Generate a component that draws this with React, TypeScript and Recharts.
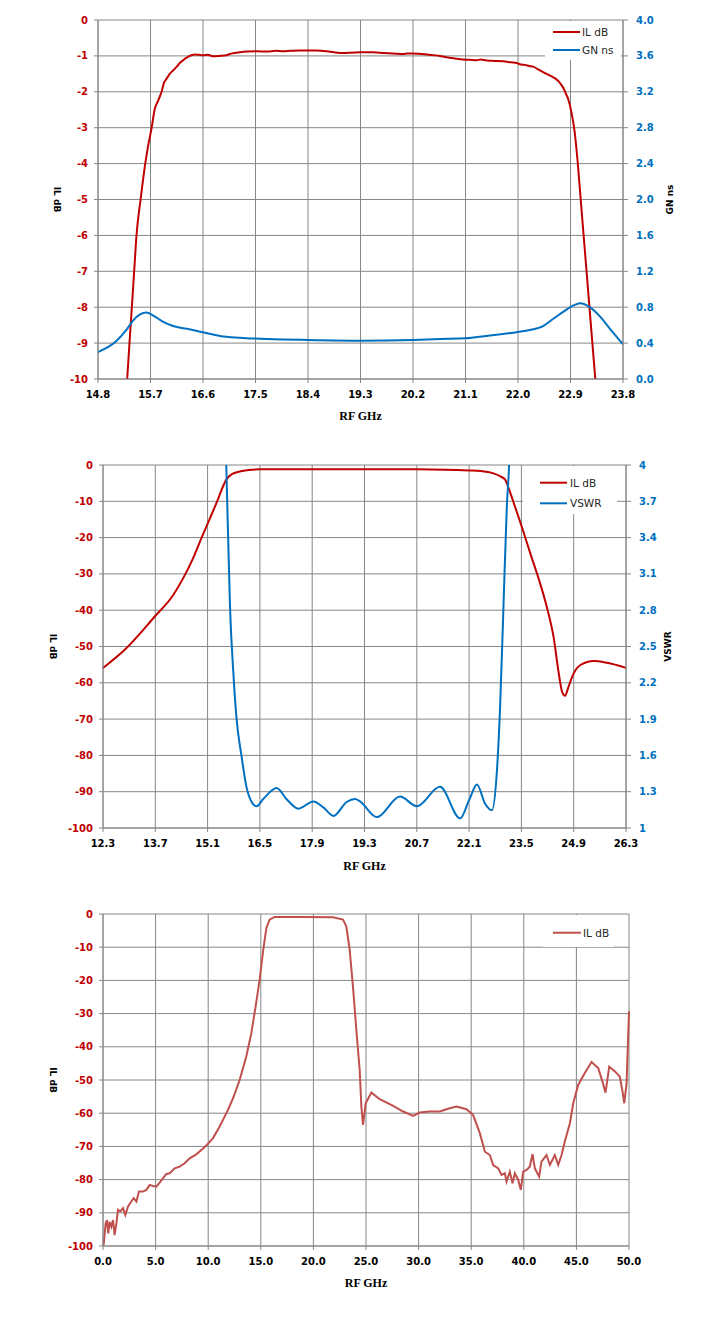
import React from 'react';
import { LineChart, Line, XAxis, YAxis, CartesianGrid } from 'recharts';

// ---- chart 1: passband IL and group delay ----
const topXTicks = [14.8, 15.7, 16.6, 17.5, 18.4, 19.3, 20.2, 21.1, 22.0, 22.9, 23.8];
const topIlTicks = [-10, -9, -8, -7, -6, -5, -4, -3, -2, -1, 0];
const topGnTicks = [0, 0.4, 0.8, 1.2, 1.6, 2.0, 2.4, 2.8, 3.2, 3.6, 4.0];

const topIlFreq = [
  15.27, 15.3, 15.34, 15.38, 15.42, 15.46, 15.53, 15.61, 15.66, 15.72, 15.77, 15.83, 15.89, 15.93,
  15.97, 16.03, 16.09, 16.15, 16.2, 16.26, 16.32, 16.4, 16.46, 16.53, 16.6, 16.68, 16.77, 16.88,
  17.0, 17.1, 17.23, 17.35, 17.52, 17.7, 17.85, 17.97, 18.1, 18.25, 18.4, 18.55, 18.72, 18.85,
  19.0, 19.15, 19.3, 19.52, 19.7, 19.85, 20.03, 20.1, 20.2, 20.3, 20.43, 20.55, 20.66, 20.75,
  20.83, 20.95, 21.06, 21.18, 21.29, 21.36, 21.46, 21.6, 21.75, 21.88, 21.98, 22.05, 22.12, 22.19,
  22.26, 22.35, 22.43, 22.55, 22.63, 22.69, 22.74, 22.78, 22.82, 22.86, 22.92, 22.97, 23.02, 23.07,
  23.12, 23.17, 23.22, 23.27, 23.32, 23.36,
];
const topIlDb = [
  -10.8, -10.0, -9.0, -8.0, -7.0, -6.0, -5.0, -4.0, -3.5, -3.0, -2.5, -2.25, -2.0, -1.75,
  -1.65, -1.5, -1.4, -1.3, -1.2, -1.12, -1.05, -0.98, -0.96, -0.97, -0.98, -0.97, -1.01, -1.0,
  -0.98, -0.93, -0.9, -0.88, -0.87, -0.88, -0.86, -0.87, -0.86, -0.85, -0.85, -0.85, -0.87, -0.9,
  -0.92, -0.91, -0.9, -0.9, -0.92, -0.93, -0.95, -0.93, -0.93, -0.94, -0.96, -0.98, -1.0, -1.03,
  -1.05, -1.08, -1.1, -1.11, -1.12, -1.1, -1.13, -1.14, -1.15, -1.18, -1.2, -1.24, -1.25, -1.28,
  -1.3, -1.38, -1.45, -1.55, -1.62, -1.7, -1.8, -1.9, -2.05, -2.2, -2.6, -3.1, -3.9, -4.9,
  -5.9, -6.9, -7.9, -8.9, -9.9, -10.7,
];

const topGnFreq = [
  14.8, 15.11, 15.29, 15.4, 15.52, 15.63, 15.74, 15.91, 16.09, 16.32, 16.6, 16.89, 17.23, 17.5,
  17.97, 18.4, 19.3, 20.2, 20.66, 21.1, 21.46, 22.0, 22.2, 22.43, 22.6, 22.78, 22.95, 23.07,
  23.23, 23.4, 23.57, 23.8,
];
const topGnNs = [
  0.3, 0.42, 0.55, 0.65, 0.72, 0.74, 0.71, 0.64, 0.59, 0.56, 0.52, 0.48, 0.46, 0.45,
  0.44, 0.435, 0.427, 0.435, 0.446, 0.453, 0.48, 0.524, 0.546, 0.59, 0.668, 0.75, 0.82, 0.843,
  0.8, 0.7, 0.565, 0.386,
];

// ---- chart 2: IL and VSWR ----
const midXTicks = [12.3, 13.7, 15.1, 16.5, 17.9, 19.3, 20.7, 22.1, 23.5, 24.9, 26.3];
const midIlTicks = [-100, -90, -80, -70, -60, -50, -40, -30, -20, -10, 0];
const midVswrTicks = [1, 1.3, 1.6, 1.9, 2.2, 2.5, 2.8, 3.1, 3.4, 3.7, 4];

const midIlFreq = [
  12.3, 12.91, 13.68, 14.18, 14.44, 14.71, 14.94, 15.15, 15.36, 15.5, 15.61, 15.75, 15.96, 16.2, 16.5,
  17.13, 19.18, 20.7, 22.1, 22.4, 22.75, 22.95, 23.07, 23.16, 23.28, 23.51, 23.74, 24.0, 24.18, 24.36,
  24.5, 24.59, 24.67, 24.76, 24.9, 25.08, 25.44, 25.79, 26.3,
];
const midIlDb = [
  -55.9, -50.6, -41.8, -35.8, -31.3, -25.7, -20.0, -15.0, -9.9, -6.2, -3.9, -2.5, -1.8, -1.4, -1.2,
  -1.15, -1.15, -1.2, -1.5, -1.65, -2.3, -3.2, -4.1, -6.4, -10.0, -17.0, -24.4, -32.6, -39.1, -47.3,
  -57.4, -62.5, -63.6, -61.1, -57.4, -55.1, -54.0, -54.5, -55.9,
];

const midVswrFreq = [
  15.56, 15.6, 15.65, 15.7, 15.79, 15.87, 16.01, 16.14, 16.28, 16.41, 16.59, 16.95, 17.21, 17.53,
  17.93, 18.2, 18.47, 18.82, 19.05, 19.18, 19.63, 20.25, 20.7, 21.32, 21.86, 22.1, 22.31, 22.53,
  22.71, 22.84, 22.93, 23.02, 23.11, 23.17, 23.22,
];
const midVswr = [
  4.6, 4.0, 3.4, 2.83, 2.28, 1.92, 1.59, 1.34, 1.215, 1.18, 1.24, 1.33, 1.24, 1.16,
  1.22, 1.17, 1.1, 1.215, 1.24, 1.22, 1.09, 1.26, 1.18, 1.34, 1.08, 1.23, 1.36, 1.2,
  1.146, 1.45, 2.0, 2.83, 3.66, 4.0, 4.6,
];

// ---- chart 3: wideband IL ----
const botXTicks = [0, 5, 10, 15, 20, 25, 30, 35, 40, 45, 50];
const botIlTicks = [-100, -90, -80, -70, -60, -50, -40, -30, -20, -10, 0];

const botFreq = [
  0.06, 0.25, 0.38, 0.5, 0.63, 0.79, 0.95, 1.1, 1.27, 1.43, 1.65, 1.9, 2.12, 2.38,
  2.69, 2.92, 3.17, 3.42, 3.8, 4.12, 4.44, 4.75, 5.07, 5.39, 6.02, 6.34, 6.81, 7.29,
  7.76, 8.24, 8.87, 9.51, 9.98, 10.46, 11.09, 11.88, 12.36, 12.99, 13.62, 14.1, 14.51, 14.89,
  15.21, 15.53, 15.84, 16.32, 18.7, 21.86, 22.81, 23.13, 23.45, 23.76, 24.08, 24.4, 24.56, 24.72,
  24.97, 25.51, 26.31, 27.58, 28.53, 29.48, 30.1, 31.05, 32.0, 32.96, 33.6, 34.55, 35.18, 35.82,
  36.3, 36.77, 37.09, 37.57, 37.88, 38.2, 38.36, 38.67, 38.93, 39.15, 39.47, 39.72, 39.94, 40.26,
  40.57, 40.83, 41.05, 41.46, 41.68, 42.16, 42.48, 42.95, 43.27, 43.59, 43.9, 44.38, 44.7, 45.17,
  45.8, 46.44, 47.07, 47.48, 47.77, 48.12, 48.66, 49.13, 49.36, 49.55, 49.77, 50.0,
];
const botIlDb = [
  -99.7, -93.2, -92.2, -96.2, -92.7, -94.2, -92.2, -96.7, -93.2, -89.1, -89.6, -88.6, -90.7, -88.1,
  -86.6, -85.6, -86.6, -83.6, -83.6, -83.1, -81.6, -81.9, -82.1, -80.9, -78.3, -78.1, -76.6, -76.1,
  -75.1, -73.6, -72.4, -70.6, -69.2, -67.5, -64.0, -59.0, -55.5, -50.0, -42.9, -35.9, -27.8, -19.8,
  -11.3, -4.2, -1.7, -0.9, -0.9, -1.0, -1.7, -3.7, -10.8, -21.8, -34.9, -47.0, -58.0, -63.5,
  -57.0, -53.8, -55.8, -57.8, -59.5, -60.8, -59.8, -59.5, -59.5, -58.5, -58.0, -58.8, -60.5, -66.0,
  -71.6, -72.6, -75.6, -76.6, -78.6, -78.1, -80.6, -77.6, -81.1, -78.1, -80.1, -83.1, -77.6, -77.1,
  -76.1, -72.3, -76.6, -79.1, -74.6, -72.6, -75.6, -72.6, -75.6, -72.6, -68.5, -63.0, -57.0, -51.5,
  -47.9, -44.6, -46.4, -50.5, -53.8, -46.0, -47.4, -49.0, -53.0, -57.0, -51.0, -29.3,
];

const zip = (xs: number[], ys: number[]) => xs.map((f, i) => ({ f, v: ys[i] }));

const RED = '#C00000';
const BLUE = '#0070C0';
const GRID = '#868686';
const tickFont = "'DejaVu Sans', Verdana, sans-serif";
const titleFont = "'DejaVu Sans', Verdana, sans-serif";

const tickStyle = (fill: string) => ({ fill, fontSize: 10, fontWeight: 'bold' as const, fontFamily: tickFont });

const fmt1 = (v: number) => v.toFixed(1);
const fmtPlain = (v: number) => String(Number(v.toFixed(1)));

function leftTitle(text: string, gap: number) {
  return (props: any) => {
    const vb = props.viewBox || {};
    const x = vb.x + vb.width - gap;
    const y = vb.y + vb.height / 2;
    return (
      <text x={x} y={y} transform={`rotate(90 ${x} ${y})`} textAnchor="middle" dominantBaseline="central"
        fontFamily={titleFont} fontSize={9} fontWeight="bold" fill="#000">{text}</text>
    );
  };
}

function rightTitle(text: string, gap: number) {
  return (props: any) => {
    const vb = props.viewBox || {};
    const x = vb.x + gap;
    const y = vb.y + vb.height / 2;
    return (
      <text x={x} y={y} transform={`rotate(-90 ${x} ${y})`} textAnchor="middle" dominantBaseline="central"
        fontFamily={titleFont} fontSize={9} fontWeight="bold" fill="#000">{text}</text>
    );
  };
}

function bottomTitle(text: string, gap: number) {
  return (props: any) => {
    const vb = props.viewBox || {};
    const x = vb.x + vb.width / 2;
    const y = vb.y + gap;
    return (
      <text x={x} y={y} textAnchor="middle" dominantBaseline="central"
        fontFamily="'Liberation Serif', 'Times New Roman', serif" fontSize={12} fontWeight="bold" fill="#000">{text}</text>
    );
  };
}

interface LegendItem { name: string; color: string }

// small boxed legend drawn over the plot, like the Excel one
function BoxLegend({ left, top, width, height, items, rowY, lineX, textX }: {
  left: number; top: number; width: number; height: number; items: LegendItem[];
  rowY: number[]; lineX: [number, number]; textX: number;
}) {
  return (
    <svg width={width} height={height} style={{ position: 'absolute', left, top }}>
      <rect x={0} y={0} width={width} height={height} fill="#fff" />
      {items.map((it, i) => (
        <g key={it.name}>
          <line x1={lineX[0]} x2={lineX[1]} y1={rowY[i]} y2={rowY[i]} stroke={it.color} strokeWidth={2} />
          <text x={textX} y={rowY[i]} dominantBaseline="central" fontFamily="'DejaVu Sans', Verdana, sans-serif"
            fontSize={10.5} fill="#262626">{it.name}</text>
        </g>
      ))}
    </svg>
  );
}

function TopChart() {
  return (
    <div style={{ position: 'absolute', left: 0, top: 0, width: 718, height: 430 }}>
      <LineChart width={718} height={430} margin={{ top: 20, right: 50, bottom: 6, left: 58 }}>
        <CartesianGrid stroke={GRID} strokeWidth={1} />
        <XAxis type="number" dataKey="f" domain={[14.8, 23.8]} ticks={topXTicks} tickFormatter={fmt1}
          height={45} stroke={GRID} tickSize={4} tickMargin={8} tick={tickStyle('#000')} interval={0}
          label={bottomTitle('RF GHz', 37)} />
        <YAxis type="number" domain={[-10, 0]} ticks={topIlTicks} allowDataOverflow width={40}
          stroke={GRID} tickSize={4} tickMargin={6} tick={tickStyle(RED)} interval={0}
          label={leftTitle('IL dB', 41)} />
        <YAxis yAxisId="right" orientation="right" type="number" domain={[0, 4]} ticks={topGnTicks} tickFormatter={fmt1}
          allowDataOverflow width={45} stroke={GRID} tickSize={5} tickMargin={8} tick={tickStyle(BLUE)} interval={0}
          label={rightTitle('GN ns', 47)} />
        <Line data={zip(topIlFreq, topIlDb)} dataKey="v" type="monotone" stroke={RED} strokeWidth={2}
          dot={false} isAnimationActive={false} />
        <Line data={zip(topGnFreq, topGnNs)} dataKey="v" yAxisId="right" type="monotone" stroke={BLUE} strokeWidth={2}
          dot={false} isAnimationActive={false} />
      </LineChart>
      <BoxLegend left={545} top={21} width={76} height={39}
        items={[{ name: 'IL dB', color: RED }, { name: 'GN ns', color: BLUE }]}
        rowY={[11, 29]} lineX={[8, 35]} textX={37} />
    </div>
  );
}

function MidChart() {
  return (
    <div style={{ position: 'absolute', left: 0, top: 440, width: 718, height: 440 }}>
      <LineChart width={718} height={440} margin={{ top: 25, right: 47, bottom: 7, left: 58 }}>
        <CartesianGrid stroke={GRID} strokeWidth={1} />
        <XAxis type="number" dataKey="f" domain={[12.3, 26.3]} ticks={midXTicks} tickFormatter={fmt1}
          height={45} stroke={GRID} tickSize={4} tickMargin={8} tick={tickStyle('#000')} interval={0}
          label={bottomTitle('RF GHz', 37.5)} />
        <YAxis type="number" domain={[-100, 0]} ticks={midIlTicks} allowDataOverflow width={45}
          stroke={GRID} tickSize={4} tickMargin={6} tick={tickStyle(RED)} interval={0}
          label={leftTitle('IL dB', 50)} />
        <YAxis yAxisId="right" orientation="right" type="number" domain={[1, 4]} ticks={midVswrTicks} tickFormatter={fmtPlain}
          allowDataOverflow width={45} stroke={GRID} tickSize={5} tickMargin={8} tick={tickStyle(BLUE)} interval={0}
          label={rightTitle('VSWR', 42)} />
        <Line data={zip(midIlFreq, midIlDb)} dataKey="v" type="monotone" stroke={RED} strokeWidth={2}
          dot={false} isAnimationActive={false} />
        <Line data={zip(midVswrFreq, midVswr)} dataKey="v" yAxisId="right" type="monotone" stroke={BLUE} strokeWidth={2}
          dot={false} isAnimationActive={false} />
      </LineChart>
      <BoxLegend left={523} top={26} width={94} height={48}
        items={[{ name: 'IL dB', color: RED }, { name: 'VSWR', color: BLUE }]}
        rowY={[16.7, 37.3]} lineX={[17, 44]} textX={47} />
    </div>
  );
}

function BottomChart() {
  return (
    <div style={{ position: 'absolute', left: 0, top: 890, width: 718, height: 442 }}>
      <LineChart width={718} height={442} margin={{ top: 24, right: 89, bottom: 41, left: 58 }}>
        <CartesianGrid stroke={GRID} strokeWidth={1} />
        <XAxis type="number" dataKey="f" domain={[0, 50]} ticks={botXTicks} tickFormatter={fmt1}
          height={45} stroke={GRID} tickSize={4} tickMargin={8} tick={tickStyle('#000')} interval={0}
          label={bottomTitle('RF GHz', 37)} />
        <YAxis type="number" domain={[-100, 0]} ticks={botIlTicks} allowDataOverflow width={45}
          stroke={GRID} tickSize={4} tickMargin={6} tick={tickStyle(RED)} interval={0}
          label={leftTitle('IL dB', 50)} />
        <Line data={zip(botFreq, botIlDb)} dataKey="v" type="linear" stroke="#C0504D" strokeWidth={2}
          dot={false} isAnimationActive={false} />
      </LineChart>
      <BoxLegend left={543} top={25} width={71} height={32}
        items={[{ name: 'IL dB', color: '#C0504D' }]}
        rowY={[17.7]} lineX={[10, 38]} textX={40} />
    </div>
  );
}

export default function App() {
  return (
    <div style={{ position: 'absolute', left: 0, top: 0, width: 718, height: 1332, background: '#fff' }}>
      <TopChart />
      <MidChart />
      <BottomChart />
    </div>
  );
}
